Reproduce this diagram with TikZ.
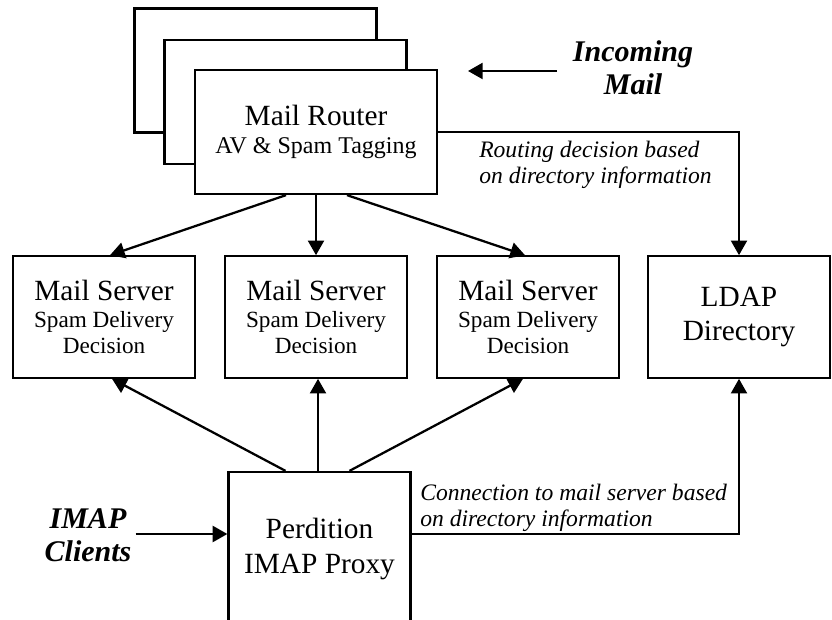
\documentclass[tikz,border=0pt]{standalone}
\usepackage{fontspec}
\setmainfont{Liberation Serif}
\usetikzlibrary{arrows.meta,calc}
\newcommand\mainsz{\fontsize{22}{20}\selectfont}
\newcommand\subsz{\fontsize{17.4}{20}\selectfont}
\begin{document}
\begin{tikzpicture}[x=0.75pt,y=-0.75pt,
  rbox/.style={draw,line width=1.7pt,fill=white,minimum width=181.5pt,minimum height=93pt,inner sep=0pt,align=center,font=\fontsize{18}{21.5}\selectfont},
  sbox/.style={draw,line width=1.7pt,fill=white,minimum width=136.5pt,minimum height=91pt,inner sep=0pt,align=center,font=\subsz},
  arr/.style={line width=1.7pt,-{Triangle[length=11pt,width=12pt]}},
  lbl/.style={inner sep=0pt,align=left,font=\itshape\fontsize{17.7}{19.8}\selectfont},
  blbl/.style={inner sep=3pt,align=center,font=\bfseries\itshape\fontsize{22.5}{25}\selectfont}]
\clip (0,0) rectangle (832,620);
\fill[white] (0,0) rectangle (832,620);
% router stack
\node[rbox] (back1) at (255.5,70.5) {};
\node[rbox] (back2) at (285.5,102) {};
\node[rbox] (router) at (316,132) {{\mainsz Mail Router}\\AV \& Spam Tagging};
% servers
\node[sbox] (s1) at (104,317) {{\mainsz Mail Server}\\Spam Delivery\\Decision};
\node[sbox] (s2) at (316,317) {{\mainsz Mail Server}\\Spam Delivery\\Decision};
\node[sbox] (s3) at (528,317) {{\mainsz Mail Server}\\Spam Delivery\\Decision};
\node[sbox,font=\fontsize{22}{25.5}\selectfont] (ldap) at (739,317) {LDAP\\Directory};
% proxy
\node[sbox,minimum height=115.5pt,font=\fontsize{22}{26}\selectfont] (proxy) at (319.5,549) {Perdition\\IMAP Proxy};
% labels
\node[blbl] (incoming) at (633,68) {Incoming\\Mail};
\node[blbl] (imap) at (88,535) {IMAP\\Clients};
\node[lbl,anchor=west] (routelbl) at (479,165) {Routing decision based\\on directory information};
\node[lbl,anchor=west] (connlbl) at (420,508) {Connection to mail server based\\on directory information};
% incoming arrow
\coordinate (instart) at (557,71);
\coordinate (intip) at (468,71);
\draw[arr] (instart) -- (intip);
% router to servers
\draw[arr] ($(router.south)+(-30,0)$) -- ($(s1.north)+(6,0)$);
\draw[arr] (router.south) -- (s2.north);
\draw[arr] ($(router.south)+(31,0)$) -- ($(s3.north)+(-3,0)$);
% router to ldap
\draw[arr] (router.east) -| (ldap.north);
% proxy to servers
\draw[arr] ($(proxy.north)+(-34,0)$) -- ($(s1.south)+(8,0)$);
\draw[arr] ($(proxy.north)+(-1.5,0)$) -- ($(s2.south)+(2,0)$);
\draw[arr] ($(proxy.north)+(30,0)$) -- ($(s3.south)+(-5,0)$);
% proxy to ldap
\draw[arr] ($(proxy.east)+(0,-15)$) -| (ldap.south);
% imap clients
\draw[arr] (imap.east |- 0,534) -- ($(proxy.west)+(0,-15)$);
\end{tikzpicture}
\end{document}
